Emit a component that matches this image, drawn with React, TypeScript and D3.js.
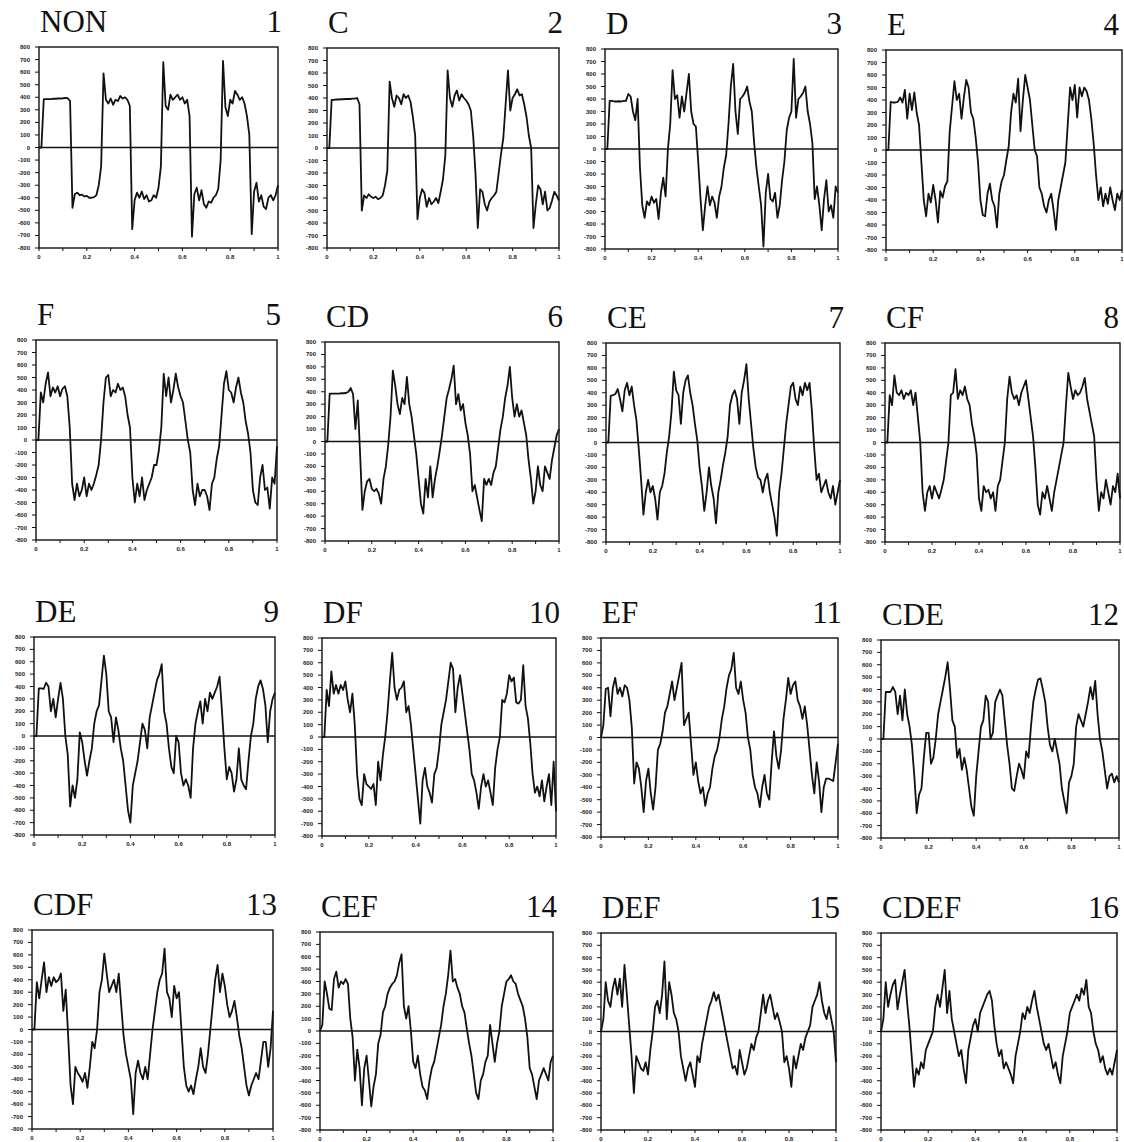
import React from "react";
import * as d3 from "d3";

// ---------- data ----------
const titles = ["NON", "C", "D", "E", "F", "CD", "CE", "CF", "DE", "DF", "EF", "CDE", "CDF", "CEF", "DEF", "CDEF"];
const panelNumbers = ["1", "2", "3", "4", "5", "6", "7", "8", "9", "10", "11", "12", "13", "14", "15", "16"];
const yTickValues = [800, 700, 600, 500, 400, 300, 200, 100, 0, -100, -200, -300, -400, -500, -600, -700, -800];
const xTickLabels = ["0", "0.2", "0.4", "0.6", "0.8", "1"];
const xTickLabelValues = [0, 0.2, 0.4, 0.6, 0.8, 1];
const xMinorTicks = [0, 0.1, 0.2, 0.3, 0.4, 0.5, 0.6, 0.7, 0.8, 0.9, 1];
// samples are taken every 0.01 on the x axis (0 .. 1)
const sampleX = d3.range(0, 101).map((i) => i / 100);

const s1 = [
  0, 0, 385, 385, 385, 385, 388, 388, 390, 390,
  392, 395, 392, 370, -480, -370, -360, -380, -375, -390,
  -385, -400, -400, -395, -380, -300, -150, 590, 380, 350,
  390, 340, 380, 370, 410, 390, 400, 380, 330, -650,
  -420, -360, -400, -350, -410, -380, -430, -420, -380, -400,
  -320, -150, 680, 330, 300, 420, 380, 400, 420, 380,
  400, 350, 380, 250, -710, -370, -320, -420, -340, -450,
  -480, -430, -440, -400, -380, -330, -100, 690, 320, 250,
  380, 350, 450, 420, 380, 400, 350, 250, 100, -690,
  -350, -280, -430, -380, -470, -490, -400, -380, -420, -380,
  -300,
];
const s2 = [
  0, 0, 385, 385, 388, 388, 390, 390, 392, 392,
  392, 395, 395, 400, 350, -500, -380, -400, -370, -390,
  -400, -390, -410, -400, -380, -300, -180, 530, 400, 330,
  420, 400, 350, 430, 400, 420, 370, 250, 100, -570,
  -400, -330, -360, -470, -400, -450, -430, -400, -440, -350,
  -250, -60, 620, 400, 330, 420, 460, 380, 430, 400,
  380, 350, 300, 100, -200, -640, -330, -350, -450, -500,
  -430, -400, -380, -350, -200, -50, 80, 350, 620, 300,
  400, 430, 470, 420, 430, 350, 250, 100, 0, -640,
  -450, -300, -330, -450, -350, -500, -480, -420, -350, -380,
  -420,
];
const s3 = [
  0, 0, 385, 385, 380, 380, 382, 380, 385, 385,
  440, 420, 300, 230, 400, -150, -450, -550, -420, -450,
  -380, -430, -400, -560, -350, -230, -380, 0, 200, 630,
  400, 430, 250, 420, 300, 450, 600, 300, 200, 180,
  -100, -400, -650, -450, -300, -450, -380, -430, -550, -380,
  -300, -150, -50, 200, 500, 680, 300, 120, 400, 420,
  450, 500, 380, 300, 50, -150, -300, -450, -780, -350,
  -200, -400, -420, -350, -550, -450, -250, -100, 150, 250,
  300, 720, 250, 400, 420, 450, 500, 300, 200, 50,
  -400, -300, -450, -650, -400, -250, -500, -450, -550, -300,
  -350,
];
const s4 = [
  0, 0, 385, 380, 380, 385, 420, 380, 480, 250,
  450, 320, 460, 300, 200, -100, -400, -530, -350, -420,
  -280, -400, -580, -330, -380, -290, -250, 150, 350, 550,
  400, 450, 250, 420, 560, 500, 300, 250, 100, -100,
  -400, -520, -530, -350, -270, -400, -450, -620, -350, -250,
  -200, -80, 30, 300, 450, 380, 570, 150, 400, 600,
  500, 400, 200, 0, -50, -300, -350, -450, -500, -400,
  -350, -480, -640, -400, -300, -200, -100, 200, 500, 400,
  520, 260, 500, 430, 500, 470, 400, 250, 50, -200,
  -400, -300, -450, -350, -430, -300, -400, -480, -350, -400,
  -320,
];
const s5 = [
  0, 0, 380, 300, 450, 540, 350, 420, 380, 430,
  350, 410, 430, 350, 100, -350, -480, -350, -450, -400,
  -300, -450, -350, -400, -350, -280, -200, 0, 300, 500,
  520, 350, 400, 380, 450, 400, 420, 350, 200, 100,
  -300, -500, -350, -450, -300, -480, -400, -350, -300, -200,
  -200, -80, 100, 530, 350, 500, 300, 400, 530, 420,
  350, 300, 150, 0, -100, -400, -520, -350, -450, -400,
  -400, -450, -560, -350, -300, -150, -50, 200, 450, 550,
  400, 380, 300, 420, 500, 380, 300, 150, 50, -100,
  -400, -500, -520, -300, -200, -400, -380, -550, -300, -350,
  -50,
];
const s6 = [
  0, 0, 385, 385, 385, 385, 385, 388, 388, 390,
  400, 430, 380, 100, 330, -100, -550, -400, -320, -300,
  -380, -400, -380, -420, -500, -300, -200, -30, 200, 570,
  450, 300, 220, 350, 300, 520, 300, 200, 50, -100,
  -300, -500, -580, -300, -450, -200, -450, -300, -200, -80,
  50, 200, 350, 420, 500, 610, 300, 380, 250, 300,
  150, 50, -100, -400, -350, -450, -550, -640, -300, -350,
  -300, -350, -250, -200, -50, 100, 200, 350, 450, 600,
  350, 200, 300, 200, 250, 150, 50, -150, -300, -500,
  -400, -200, -350, -400, -200, -250, -300, -150, -50, 50,
  100,
];
const s7 = [
  0, 0, 375, 380, 390, 430, 350, 250, 420, 480,
  380, 450, 300, 180, -50, -300, -580, -400, -300, -400,
  -350, -450, -620, -400, -350, -250, -80, 50, 250, 570,
  420, 380, 150, 400, 500, 540, 400, 300, 150, 20,
  -200, -350, -550, -400, -200, -350, -450, -650, -400, -300,
  -180, -80, 50, 300, 380, 420, 350, 150, 400, 500,
  630, 350, 150, -50, -200, -280, -300, -400, -300, -250,
  -400, -500, -600, -750, -400, -250, -50, 150, 300, 450,
  480, 350, 300, 450, 380, 480, 420, 480, 250, -50,
  -300, -250, -400, -350, -300, -400, -450, -350, -500, -400,
  -300,
];
const s8 = [
  0, 0, 380, 300, 540, 400, 380, 420, 350, 400,
  380, 420, 300, 400, 200, 0, -400, -550, -400, -350,
  -450, -350, -400, -450, -380, -300, -150, 0, 380, 400,
  590, 350, 420, 380, 450, 350, 300, 150, 50, -100,
  -450, -550, -350, -400, -380, -450, -400, -550, -350, -300,
  -150, 0, 350, 530, 400, 350, 380, 300, 400, 450,
  500, 350, 200, 50, -200, -500, -580, -400, -450, -350,
  -450, -550, -400, -300, -200, -100, 0, 300, 560, 450,
  350, 420, 380, 400, 450, 520, 350, 250, 150, 50,
  -300, -550, -400, -450, -300, -400, -500, -350, -400, -250,
  -450,
];
const s9 = [
  0, 0, 385, 385, 380, 430, 400, 200, 300, 150,
  300, 430, 300, 0, -150, -570, -400, -500, -350, 30,
  -50, -200, -320, -200, -100, 100, 200, 250, 450, 650,
  500, 200, 150, -50, 150, 50, -100, -200, -400, -600,
  -700, -400, -300, -200, -50, 100, 50, -100, 150, 250,
  350, 450, 500, 580, 200, 100, -100, -250, -300, 0,
  -50, -300, -400, -350, -400, -500, -100, 100, 200, 280,
  100, 300, 200, 350, 300, 350, 400, 480, 200, -100,
  -350, -250, -300, -450, -350, -100, -350, -400, -430, -200,
  0, 100, 300, 400, 450, 380, 250, -50, 200, 300,
  350,
];
const s10 = [
  0, 0, 380, 250, 530, 350, 420, 350, 420, 380,
  450, 300, 200, 350, 100, -300, -500, -550, -300, -380,
  -400, -420, -380, -550, -200, -350, -150, 0, 200, 450,
  680, 400, 300, 380, 400, 450, 200, 250, 100, -100,
  -300, -500, -700, -350, -250, -400, -450, -530, -300, -250,
  -100, 100, 200, 300, 450, 600, 550, 200, 400, 500,
  350, 200, 50, -100, -300, -350, -450, -580, -400, -300,
  -400, -350, -450, -550, -250, -100, 0, 300, 280, 350,
  500, 450, 480, 280, 270, 300, 580, 250, 150, -50,
  -300, -450, -400, -480, -350, -520, -400, -300, -550, -200,
  -600,
];
const s11 = [
  0, 100, 390, 400, 170, 400, 480, 350, 400, 330,
  420, 400, 300, 80, -370, -200, -250, -400, -600, -350,
  -250, -450, -580, -400, -100, -50, 50, 200, 250, 350,
  450, 300, 400, 500, 600, 100, 150, 200, -50, -300,
  -200, -350, -450, -400, -550, -450, -400, -250, -150, -100,
  0, 150, 250, 400, 500, 550, 680, 400, 350, 450,
  300, 200, 0, -100, -300, -400, -450, -560, -400, -300,
  -450, -500, -200, 50, -150, -250, -100, 150, 300, 480,
  350, 420, 450, 300, 250, 150, 250, 100, -100, -300,
  -450, -200, -350, -600, -400, -330, -330, -340, -350, -200,
  -50,
];
const s12 = [
  0, 0, 380, 380, 380, 420, 380, 200, 350, 150,
  400, 200, 100, -50, -300, -600, -450, -400, -150, 50,
  50, -200, -150, 0, 200, 300, 400, 500, 620, 400,
  150, 100, -150, -80, -250, -150, -250, -400, -550, -620,
  -300, -100, 100, 150, 350, 300, 0, 50, 300, 350,
  400, 350, 150, -50, -200, -400, -420, -300, -200, -250,
  -320, -100, -150, 100, 300, 400, 480, 490, 400, 300,
  100, -50, -100, 0, -100, -200, -400, -500, -600, -350,
  -300, -200, 100, 200, 150, 100, 200, 300, 420, 320,
  470, 200, 0, -100, -250, -400, -300, -280, -350, -300,
  -350,
];
const s13 = [
  0, 0, 380, 250, 400, 540, 300, 420, 350, 420,
  380, 400, 450, 150, 320, -50, -450, -600, -300, -350,
  -380, -420, -350, -470, -300, -100, -150, 0, 300, 400,
  610, 450, 300, 350, 400, 300, 450, 200, -50, -200,
  -300, -400, -680, -350, -250, -350, -400, -300, -400, -200,
  0, 150, 300, 400, 450, 650, 300, 250, 100, 350,
  250, 300, 0, -300, -450, -500, -450, -520, -400, -300,
  -150, -300, -350, -200, 0, 200, 400, 520, 300, 450,
  350, 200, 100, 150, 230, 100, -50, -150, -300, -450,
  -530, -450, -400, -350, -400, -250, -100, -100, -300, -150,
  150,
];
const s14 = [
  0, 50, 400, 300, 180, 170, 420, 480, 350, 400,
  380, 420, 380, 100, -50, -400, -150, -300, -600, -300,
  -200, -400, -610, -450, -350, -100, -30, 150, 200, 300,
  350, 380, 400, 450, 550, 620, 200, 100, 200, 0,
  -250, -300, -200, -350, -450, -480, -550, -400, -300, -250,
  -150, -50, 50, 200, 300, 450, 650, 400, 420, 350,
  300, 200, 150, 20, -100, -200, -350, -500, -550, -400,
  -350, -250, -200, 50, -100, -250, -100, 0, 200, 300,
  400, 420, 450, 400, 380, 300, 250, 200, 100, -50,
  -300, -350, -450, -550, -400, -350, -300, -350, -400, -250,
  -200,
];
const s15 = [
  0, 100, 400, 250, 200, 350, 430, 300, 430, 200,
  540, 300, 50, -200, -500, -200, -250, -300, -320, -250,
  -350, -150, 0, 200, 250, 150, 300, 570, 100, 400,
  300, 150, 100, 0, -200, -300, -400, -300, -250, -350,
  -450, -200, -250, -100, 0, 100, 200, 250, 320, 250,
  300, 200, 100, 0, -100, -200, -300, -280, -350, -150,
  -250, -350, -300, -200, -100, -150, -50, 0, 150, 300,
  150, 250, 300, 200, 100, 150, 80, 0, -250, -200,
  -300, -450, -200, -300, -200, -100, -150, -50, 0, 50,
  200, 250, 300, 400, 250, 150, 100, 200, 100, 0,
  -250,
];
const s16 = [
  0, 100, 400, 200, 300, 380, 420, 180, 300, 400,
  500, 250, 50, -200, -450, -300, -350, -250, -300, -150,
  -100, -50, 0, 200, 300, 200, 350, 500, 150, 330,
  100, 0, -100, -200, -150, -300, -420, -150, -50, 50,
  100, 0, 150, 200, 250, 300, 330, 250, 50, -100,
  -200, -150, -300, -250, -300, -350, -420, -200, -100, 0,
  150, 100, 200, 150, 250, 330, 200, 100, 0, -100,
  -150, -100, -200, -300, -250, -350, -420, -200, -100, 0,
  150, 200, 250, 300, 250, 350, 300, 420, 200, 150,
  0, -100, -150, -250, -200, -300, -350, -300, -350, -250,
  -150,
];
const allSeries = [s1, s2, s3, s4, s5, s6, s7, s8, s9, s10, s11, s12, s13, s14, s15, s16];

// ---------- layout (pixel boxes of each panel: left, top, width, height) ----------
const boxes: [number, number, number, number][] = [
  [39, 47, 239, 201], [327, 48, 232, 200], [605, 49, 233, 200], [886, 50, 236, 200],
  [36, 340, 241, 200], [325, 342, 234, 199], [606, 343, 234, 199], [885, 343, 235, 199],
  [34, 637, 241, 198], [322, 638, 234, 198], [601, 638, 237, 199], [881, 640, 238, 198],
  [32, 930, 241, 199], [320, 932, 233, 198], [601, 933, 235, 197], [881, 933, 236, 197],
];

const serif = "'Liberation Serif', 'Times New Roman', serif";
const sans = "'Liberation Sans', Arial, sans-serif";

function Panel({ idx }: { idx: number }) {
  const [left, top, w, h] = boxes[idx];
  const x = d3.scaleLinear().domain([0, 1]).range([left, left + w]);
  const y = d3.scaleLinear().domain([-800, 800]).range([top + h, top]);
  const values = allSeries[idx];
  const line = d3
    .line<number>()
    .x((_, i) => x(sampleX[i]))
    .y((v) => y(v));
  const numRight = Math.min(left + w + 4, 1119);
  return (
    <g>
      <text x={left + 1} y={top - 15} fontFamily={serif} fontSize={31} fill="#111">
        {titles[idx]}
      </text>
      <text x={numRight} y={top - 15} fontFamily={serif} fontSize={31} fill="#111" textAnchor="end">
        {panelNumbers[idx]}
      </text>
      <rect x={left} y={top} width={w} height={h} fill="none" stroke="#111" strokeWidth={1.4} />
      {yTickValues.map((t) => (
        <g key={"y" + t}>
          <line x1={left - 4} x2={left} y1={y(t)} y2={y(t)} stroke="#111" strokeWidth={1} />
          <text
            x={left - 9}
            y={y(t) + 2}
            fontFamily={sans}
            fontWeight="bold"
            fontSize={6}
            textAnchor="end"
            fill="#222"
          >
            {t}
          </text>
        </g>
      ))}
      {xMinorTicks.map((t) => (
        <line key={"xm" + t} x1={x(t)} x2={x(t)} y1={top + h} y2={top + h + 3} stroke="#111" strokeWidth={1} />
      ))}
      {xTickLabelValues.map((t, i) => (
        <text
          key={"xl" + t}
          x={x(t)}
          y={top + h + 11}
          fontFamily={sans}
          fontWeight="bold"
          fontSize={6}
          textAnchor="middle"
          fill="#222"
        >
          {xTickLabels[i]}
        </text>
      ))}
      <line x1={left} x2={left + w} y1={y(0)} y2={y(0)} stroke="#111" strokeWidth={1.4} />
      <path d={line(values) || ""} fill="none" stroke="#111" strokeWidth={1.8} strokeLinejoin="round" />
    </g>
  );
}

export default function App() {
  return (
    <svg
      width={1124}
      height={1142}
      style={{ position: "absolute", left: 0, top: 0, background: "#fff" }}
    >
      <rect x={0} y={0} width={1124} height={1142} fill="#fff" />
      {titles.map((_, i) => (
        <Panel key={i} idx={i} />
      ))}
    </svg>
  );
}
